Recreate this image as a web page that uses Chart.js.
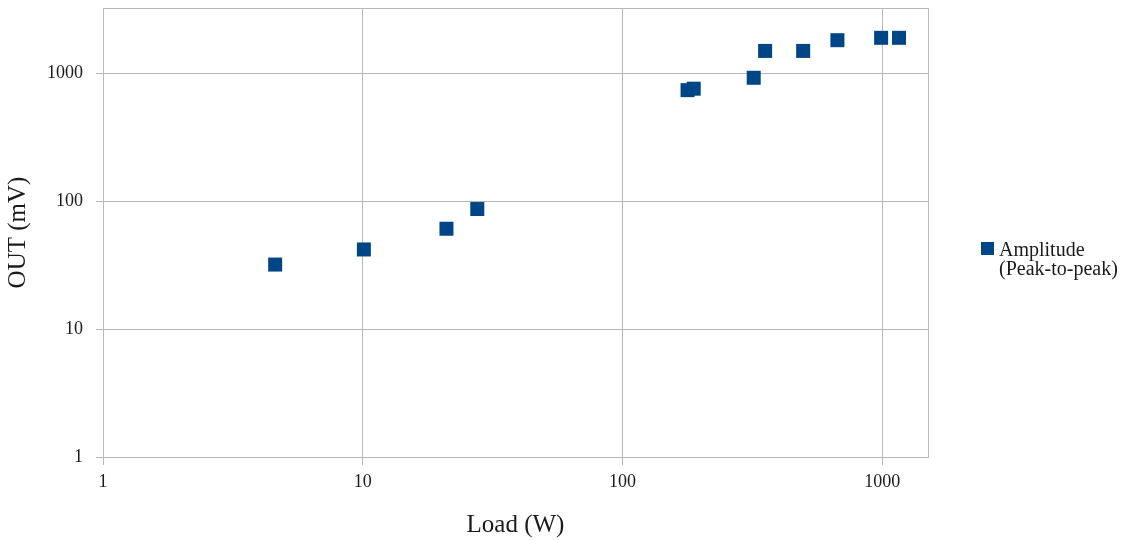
<!DOCTYPE html>
<html>
<head>
<meta charset="utf-8">
<script src="https://cdn.jsdelivr.net/npm/chart.js@4/dist/chart.umd.min.js"></script>
<style>
  html, body { margin: 0; padding: 0; background: #ffffff; }
  #wrap { width: 1130px; height: 540px; }
</style>
</head>
<body>
<div id="wrap"><canvas id="c" width="1130" height="540"></canvas></div>
<script>
// Load (W) against output amplitude (mV), both on log scales
const loadW = [4.6, 10.1, 21, 27.6, 178, 188, 320, 354, 496, 672, 990, 1160];
const outMv = [32, 42, 61, 87, 740, 760, 925, 1500, 1500, 1820, 1900, 1900];
const xTicks = [1, 10, 100, 1000];
const yTicks = [1, 10, 100, 1000];
const seriesName = ['Amplitude', '(Peak-to-peak)'];

const FONT = '"Liberation Serif", "DejaVu Serif", serif';
const GRID = '#b8b8b8';
const BLUE = '#004586';
const TEXT = '#1a1a1a';

// frame around the plotting area and a two-line legend at the right
const framePlugin = {
  id: 'frame',
  afterDraw(chart) {
    const { ctx, chartArea: a } = chart;
    ctx.save();
    ctx.strokeStyle = GRID;
    ctx.lineWidth = 1;
    ctx.strokeRect(Math.round(a.left) + 0.5, Math.round(a.top) + 0.5,
                   Math.round(a.right - a.left), Math.round(a.bottom - a.top));
    // legend
    const lx = a.right + 53;
    const ly = 242;
    ctx.fillStyle = BLUE;
    ctx.fillRect(lx, ly, 13, 13);
    ctx.fillStyle = TEXT;
    ctx.font = '20px ' + FONT;
    ctx.textBaseline = 'alphabetic';
    ctx.textAlign = 'left';
    ctx.fillText(seriesName[0], lx + 18, ly + 14);
    ctx.fillText(seriesName[1], lx + 18, ly + 33);
    ctx.restore();
  }
};

const data = {
  datasets: [{
    label: seriesName.join(' '),
    data: loadW.map((x, i) => ({ x, y: outMv[i] })),
    backgroundColor: BLUE,
    borderColor: BLUE,
    borderWidth: 0,
    pointStyle: 'rect',
    pointRadius: 9.9,
    pointHoverRadius: 9.9,
    showLine: false
  }]
};

new Chart(document.getElementById('c'), {
  type: 'scatter',
  data,
  options: {
    responsive: false,
    animation: false,
    devicePixelRatio: 1,
    layout: { autoPadding: false, padding: { top: 8, right: 202, left: 0, bottom: 0 } },
    plugins: {
      legend: { display: false },
      tooltip: { enabled: false }
    },
    scales: {
      x: {
        type: 'logarithmic',
        min: 1,
        max: 1500,
        afterBuildTicks: (axis) => { axis.ticks = xTicks.map(v => ({ value: v })); },
        afterFit: (axis) => { axis.height = 83; axis.paddingLeft = 0; axis.paddingRight = 0; },
        ticks: {
          color: TEXT,
          font: { family: FONT, size: 18 },
          padding: 6,
          maxRotation: 0,
          autoSkip: false,
          callback: (v) => String(v)
        },
        grid: { color: GRID, lineWidth: 1, tickLength: 8, drawTicks: true },
        border: { color: GRID, width: 1 },
        title: {
          display: true,
          text: 'Load (W)',
          color: TEXT,
          font: { family: FONT, size: 25 },
          padding: { top: 0, bottom: 0 }
        }
      },
      y: {
        type: 'logarithmic',
        min: 1,
        max: 3250,
        afterBuildTicks: (axis) => { axis.ticks = yTicks.map(v => ({ value: v })); },
        afterFit: (axis) => { axis.width = 103; axis.paddingTop = 0; axis.paddingBottom = 0; },
        ticks: {
          color: TEXT,
          font: { family: FONT, size: 18 },
          padding: 13,
          autoSkip: false,
          callback: (v) => String(v)
        },
        grid: { color: GRID, lineWidth: 1, tickLength: 7, drawTicks: true },
        border: { color: GRID, width: 1 },
        title: {
          display: true,
          text: 'OUT (mV)',
          color: TEXT,
          font: { family: FONT, size: 25 },
          padding: { top: 3, bottom: 0 }
        }
      }
    }
  },
  plugins: [framePlugin]
});
</script>
</body>
</html>
